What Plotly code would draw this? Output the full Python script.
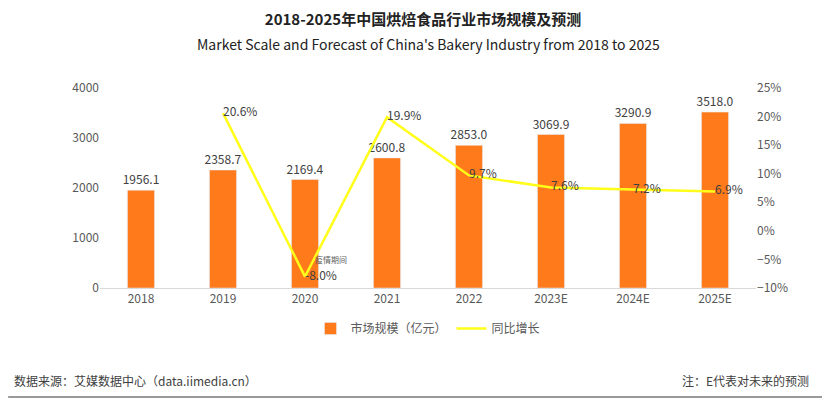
import plotly.graph_objects as go

years = ["2018", "2019", "2020", "2021", "2022", "2023E", "2024E", "2025E"]
market = [1956.1, 2358.7, 2169.4, 2600.8, 2853.0, 3069.9, 3290.9, 3518.0]
growth = [None, 20.6, -8.0, 19.9, 9.7, 7.6, 7.2, 6.9]
growth_labels = ["", "20.6%", "-8.0%", "19.9%", "9.7%", "7.6%", "7.2%", "6.9%"]
xi = list(range(len(years)))

font = "Noto Sans CJK SC"
fig = go.Figure()
fig.add_trace(go.Bar(x=xi, y=market, name="市场规模（亿元）", marker_color="#FF7A1A",
                     width=0.33, text=[f"{v:.1f}" for v in market], textposition="outside",
                     constraintext="none",
                     textfont=dict(size=12, color="#404040"), cliponaxis=False))
fig.add_trace(go.Scatter(x=xi, y=growth, name="同比增长", yaxis="y2", mode="lines+text",
                         line=dict(color="#FFFF1A", width=2.5), text=growth_labels,
                         textposition="middle right", textfont=dict(size=12, color="#404040"),
                         cliponaxis=False))
fig.add_annotation(x=xi[2], y=growth[2], yref="y2", text="疫情期间", showarrow=False,
                   xshift=26, yshift=17, font=dict(size=8, color="#606060"))
fig.update_layout(
    width=830, height=401, plot_bgcolor="white", paper_bgcolor="white",
    margin=dict(l=92, r=82, t=80, b=121),
    font=dict(family=font, size=12, color="#595959"),
    title=dict(text="<b>2018-2025年中国烘焙食品行业市场规模及预测</b>",
               x=0.5, xanchor="center", y=0.985, yanchor="top", font=dict(size=15, color="#222")),
    xaxis=dict(range=[-0.5, 7.5], tickvals=xi, ticktext=years, showline=True, linecolor="#d9d9d9",
               showgrid=False, zeroline=False, tickfont=dict(size=12, color="#595959")),
    yaxis=dict(range=[0, 4000], dtick=1000, showgrid=False, zeroline=False,
               tickfont=dict(size=12, color="#595959")),
    yaxis2=dict(range=[-10, 25], dtick=5, overlaying="y", side="right", showgrid=False,
                zeroline=False, ticksuffix="%", tickfont=dict(size=12, color="#595959")),
    legend=dict(orientation="h", x=0.5, xanchor="center", y=-0.13, yanchor="top",
                font=dict(size=12, color="#595959")),
)
fig.add_annotation(x=0.5, y=1, xref="paper", yref="paper", yanchor="bottom", yshift=32,
                   text="Market Scale and Forecast of China's Bakery Industry from 2018 to 2025",
                   showarrow=False, font=dict(size=14, color="#222"))
fig.add_annotation(x=0, y=0, xref="paper", yref="paper", xanchor="left", yanchor="bottom",
                   text="数据来源：艾媒数据中心（data.iimedia.cn）", showarrow=False,
                   font=dict(size=12, color="#404040"), xshift=-88, yshift=-103)
fig.add_annotation(x=1, y=0, xref="paper", yref="paper", xanchor="right", yanchor="bottom",
                   text="注：E代表对未来的预测", showarrow=False,
                   font=dict(size=12, color="#404040"), xshift=55, yshift=-103)
fig.add_shape(type="line", xref="paper", yref="paper", x0=-0.14, x1=1.13, y0=-0.545, y1=-0.545,
              line=dict(color="#999", width=2))
fig.write_html("out.html")
